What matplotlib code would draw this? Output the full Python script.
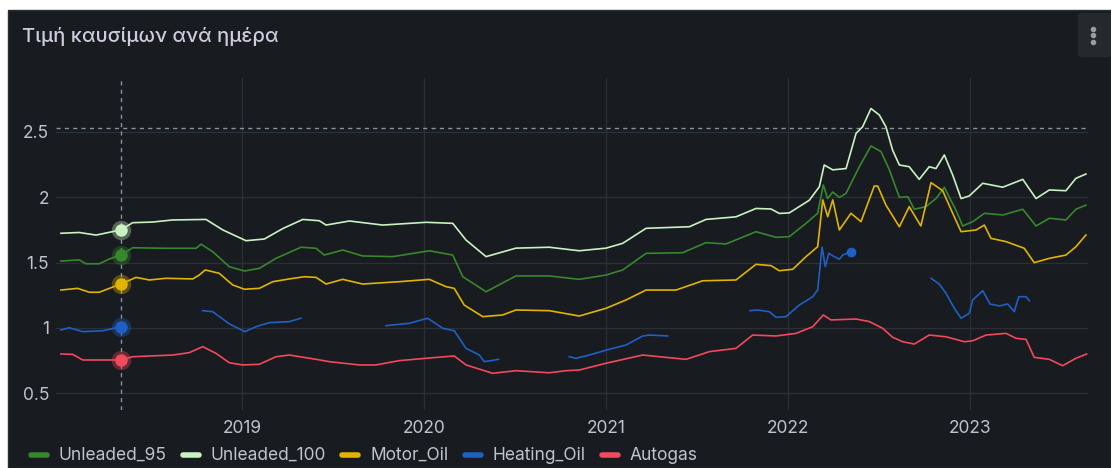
import numpy as np
import pandas as pd
import matplotlib
matplotlib.use("Agg")
import matplotlib.pyplot as plt
from matplotlib.patches import FancyBboxPatch
from matplotlib.lines import Line2D

plt.rcParams['font.family'] = ['Inter', 'DejaVu Sans']

# ---------------- data (decimal years, price in EUR/l) ----------------
u100_years = [2018.005, 2018.106, 2018.198, 2018.335, 2018.399, 2018.509, 2018.619, 2018.802, 2018.894,
              2019.022, 2019.123, 2019.224, 2019.334, 2019.425, 2019.462, 2019.590, 2019.773, 2020.011,
              2020.158, 2020.231, 2020.341, 2020.505, 2020.688, 2020.853, 2021.000, 2021.092, 2021.220,
              2021.458, 2021.549, 2021.714, 2021.824, 2021.907, 2021.952, 2022.007, 2022.117, 2022.172,
              2022.199, 2022.246, 2022.319, 2022.374, 2022.410, 2022.456, 2022.502, 2022.538, 2022.575,
              2022.612, 2022.666, 2022.721, 2022.776, 2022.813, 2022.859, 2022.905, 2022.951, 2022.996,
              2023.070, 2023.180, 2023.290, 2023.363, 2023.436, 2023.527, 2023.582, 2023.637]
u100_vals = [1.724, 1.73, 1.71, 1.75, 1.805, 1.81, 1.826, 1.83, 1.75, 1.667, 1.68, 1.76, 1.83, 1.82,
             1.787, 1.818, 1.787, 1.808, 1.80, 1.672, 1.545, 1.61, 1.617, 1.59, 1.61, 1.647, 1.762,
             1.774, 1.83, 1.85, 1.914, 1.91, 1.876, 1.88, 1.977, 2.08, 2.247, 2.21, 2.22, 2.49, 2.54,
             2.68, 2.63, 2.54, 2.36, 2.247, 2.234, 2.137, 2.234, 2.22, 2.324, 2.17, 1.99, 2.01, 2.107,
             2.077, 2.137, 1.99, 2.056, 2.05, 2.145, 2.178]

u95_years = [2018.005, 2018.106, 2018.143, 2018.216, 2018.271, 2018.335, 2018.399, 2018.582, 2018.747,
             2018.775, 2018.839, 2018.930, 2019.013, 2019.095, 2019.187, 2019.324, 2019.407, 2019.452,
             2019.553, 2019.663, 2019.828, 2020.029, 2020.158, 2020.213, 2020.341, 2020.505, 2020.688,
             2020.853, 2021.000, 2021.092, 2021.220, 2021.421, 2021.549, 2021.659, 2021.824, 2021.934,
             2022.007, 2022.099, 2022.163, 2022.194, 2022.218, 2022.246, 2022.282, 2022.319, 2022.392,
             2022.456, 2022.511, 2022.557, 2022.612, 2022.658, 2022.694, 2022.758, 2022.813, 2022.859,
             2022.923, 2022.960, 2023.015, 2023.079, 2023.180, 2023.290, 2023.363, 2023.436, 2023.527,
             2023.582, 2023.637]
u95_vals = [1.511, 1.52, 1.49, 1.49, 1.527, 1.557, 1.613, 1.609, 1.609, 1.64, 1.583, 1.468, 1.435,
            1.455, 1.532, 1.617, 1.609, 1.557, 1.596, 1.55, 1.545, 1.59, 1.557, 1.391, 1.276, 1.397,
            1.397, 1.371, 1.404, 1.443, 1.57, 1.575, 1.652, 1.642, 1.736, 1.693, 1.698, 1.80, 1.877,
            2.094, 1.99, 2.04, 1.999, 2.03, 2.234, 2.393, 2.35, 2.21, 1.999, 2.004, 1.908, 1.928, 1.99,
            2.076, 1.90, 1.78, 1.813, 1.877, 1.864, 1.908, 1.78, 1.839, 1.826, 1.908, 1.94]

motor_years = [2018.005, 2018.097, 2018.161, 2018.216, 2018.271, 2018.335, 2018.418, 2018.491, 2018.582,
               2018.729, 2018.765, 2018.798, 2018.875, 2018.949, 2019.013, 2019.095, 2019.169, 2019.260,
               2019.342, 2019.407, 2019.462, 2019.553, 2019.663, 2019.864, 2020.029, 2020.121, 2020.166,
               2020.221, 2020.323, 2020.432, 2020.505, 2020.688, 2020.853, 2021.000, 2021.110, 2021.220,
               2021.385, 2021.531, 2021.714, 2021.824, 2021.907, 2021.952, 2022.026, 2022.099, 2022.163,
               2022.191, 2022.218, 2022.246, 2022.282, 2022.346, 2022.401, 2022.474, 2022.493, 2022.538,
               2022.612, 2022.666, 2022.730, 2022.786, 2022.850, 2022.905, 2022.951, 2023.033, 2023.079,
               2023.115, 2023.198, 2023.298, 2023.353, 2023.436, 2023.527, 2023.582, 2023.637]
motor_vals = [1.289, 1.302, 1.272, 1.272, 1.302, 1.335, 1.386, 1.366, 1.379, 1.374, 1.404, 1.443,
              1.417, 1.328, 1.295, 1.302, 1.353, 1.374, 1.391, 1.386, 1.335, 1.371, 1.335, 1.353,
              1.371, 1.315, 1.302, 1.174, 1.085, 1.098, 1.136, 1.131, 1.09, 1.149, 1.213, 1.289,
              1.289, 1.36, 1.366, 1.486, 1.476, 1.437, 1.448, 1.545, 1.621, 1.98, 1.851, 1.98, 1.749,
              1.877, 1.813, 2.086, 2.086, 1.94, 1.774, 1.928, 1.78, 2.112, 2.05, 1.877, 1.736, 1.749,
              1.787, 1.685, 1.66, 1.609, 1.499, 1.532, 1.557, 1.621, 1.711]

heating_years = [
    [2018.005, 2018.051, 2018.125, 2018.235, 2018.335],
    [2018.784, 2018.839, 2018.930, 2019.016, 2019.077, 2019.150, 2019.260, 2019.324],
    [2019.791, 2019.919, 2020.020, 2020.103, 2020.166, 2020.231, 2020.304, 2020.331, 2020.410],
    [2020.798, 2020.835, 2020.908, 2021.018, 2021.110, 2021.202, 2021.238, 2021.339],
    [2021.791, 2021.834, 2021.897, 2021.934, 2021.989, 2022.062, 2022.136, 2022.163, 2022.187,
     2022.205, 2022.224, 2022.254, 2022.282, 2022.301, 2022.346],
    [2022.786, 2022.831, 2022.868, 2022.914, 2022.951, 2022.996, 2023.015, 2023.070, 2023.110,
     2023.161, 2023.207, 2023.243, 2023.268, 2023.308, 2023.326],
]
heating_vals = [
    [0.983, 1.0, 0.97, 0.977, 1.008],
    [1.131, 1.123, 1.03, 0.97, 1.008, 1.039, 1.047, 1.073],
    [1.016, 1.034, 1.073, 0.996, 0.977, 0.842, 0.791, 0.74, 0.758],
    [0.778, 0.766, 0.791, 0.835, 0.868, 0.937, 0.944, 0.937],
    [1.131, 1.136, 1.123, 1.08, 1.085, 1.174, 1.238, 1.289, 1.617, 1.468, 1.57, 1.545, 1.525,
     1.557, 1.583],
    [1.379, 1.335, 1.264, 1.149, 1.073, 1.111, 1.213, 1.284, 1.182, 1.167, 1.182, 1.123, 1.238,
     1.238, 1.207],
]

autogas_years = [2018.005, 2018.070, 2018.125, 2018.335, 2018.399, 2018.619, 2018.710, 2018.784,
                 2018.857, 2018.930, 2019.004, 2019.095, 2019.187, 2019.260, 2019.407, 2019.480,
                 2019.645, 2019.736, 2019.864, 2020.011, 2020.166, 2020.231, 2020.377, 2020.505,
                 2020.688, 2020.780, 2020.853, 2021.000, 2021.202, 2021.330, 2021.440, 2021.568,
                 2021.714, 2021.806, 2021.934, 2022.044, 2022.136, 2022.194, 2022.236, 2022.374,
                 2022.447, 2022.520, 2022.575, 2022.630, 2022.694, 2022.776, 2022.868, 2022.969,
                 2023.015, 2023.088, 2023.198, 2023.253, 2023.308, 2023.353, 2023.436, 2023.509,
                 2023.582, 2023.641]
autogas_vals = [0.799, 0.796, 0.753, 0.753, 0.778, 0.791, 0.809, 0.855, 0.804, 0.732, 0.715, 0.72,
                0.778, 0.791, 0.758, 0.74, 0.715, 0.715, 0.748, 0.766, 0.784, 0.715, 0.651, 0.671,
                0.655, 0.671, 0.676, 0.728, 0.791, 0.773, 0.758, 0.817, 0.842, 0.944, 0.937, 0.957,
                1.008, 1.098, 1.06, 1.067, 1.047, 0.996, 0.927, 0.893, 0.875, 0.944, 0.931, 0.893,
                0.90, 0.944, 0.957, 0.919, 0.911, 0.773, 0.758, 0.709, 0.766, 0.799]

series_names = ['Unleaded_95', 'Unleaded_100', 'Motor_Oil', 'Heating_Oil', 'Autogas']
series_colors = ['#37872d', '#c8f2c2', '#e0b400', '#1f60c4', '#f2495c']

# hover (crosshair) state shown in the screenshot
hover_year = 2018.335
hover_vals = [1.557, 1.75, 1.335, 1.008, 0.753]
cursor_value = 2.53

title_text = 'Τιμή καυσίμων ανά ημέρα'
year_ticks = [2019, 2020, 2021, 2022, 2023]
y_ticks = [0.5, 1, 1.5, 2, 2.5]

BASE = pd.Timestamp('2018-01-01')


def to_dt(years):
    arr = np.asarray(years, dtype=float)
    return BASE + pd.to_timedelta((arr - 2018.0) * 365.25, unit='D')


# ---------------- figure ----------------
W, H = 1111, 468
fig = plt.figure(figsize=(W / 100, H / 100), dpi=100)
fig.patch.set_facecolor('white')

BG = '#181b1f'
TEXT = '#ccccdc'
TICK_TEXT = '#c0c2cc'
GRID = '#2c2f35'
FS = 12.5


def fx(px):
    return px / W


def fy(py):
    return 1 - py / H


panel = FancyBboxPatch((fx(8), 0), fx(1111) - fx(8), fy(10), boxstyle='square,pad=0',
                       transform=fig.transFigure, facecolor=BG, edgecolor='#2a2d33',
                       linewidth=1.0, zorder=-10)
fig.patches.append(panel)

menu = FancyBboxPatch((fx(1078), fy(57)), fx(1111) - fx(1078), fy(13) - fy(57),
                      boxstyle='round,pad=0,rounding_size=0.004', transform=fig.transFigure,
                      facecolor='#25282d', edgecolor='none', zorder=-5)
fig.patches.append(menu)
for py in (28.5, 35, 41.5):
    fig.add_artist(Line2D([fx(1093)], [fy(py)], marker='o', markersize=3, color='#9a9ca3',
                          transform=fig.transFigure, linestyle='none'))

fig.text(fx(22), fy(36), title_text, fontsize=14.5, fontweight='medium', color=TEXT,
         ha='left', va='center')

# axes
ax_left, ax_right, ax_top, ax_bot = 56, 1088, 78, 410
ax = fig.add_axes([fx(ax_left), fy(ax_bot), fx(ax_right) - fx(ax_left), fy(ax_top) - fy(ax_bot)])
ax.set_zorder(5)
ax.set_facecolor('none')
ax.patch.set_alpha(0)
for s in ax.spines.values():
    s.set_visible(False)

px_per_unit = 130.5
ax.set_ylim(0.5 - (ax_bot - 393) / px_per_unit, 2.5 + (132 - ax_top) / px_per_unit)
ax.set_xlim(to_dt([2018 + (ax_left - 60) / 182, 2018 + (ax_right - 60) / 182]))

ax.set_yticks(y_ticks)
ax.set_yticklabels([('%g' % v) for v in y_ticks])
xt = [pd.Timestamp(f'{y}-01-01') for y in year_ticks]
ax.set_xticks(xt)
ax.set_xticklabels([str(y) for y in year_ticks])
ax.tick_params(axis='both', length=0, labelsize=FS, colors=TICK_TEXT)
ax.tick_params(axis='y', pad=5)
ax.tick_params(axis='x', pad=7)
ax.grid(True, color=GRID, linewidth=1.0)
ax.set_axisbelow(True)

lw = 1.2
ax.plot(to_dt(u95_years), u95_vals, color=series_colors[0], lw=lw, zorder=3)
ax.plot(to_dt(u100_years), u100_vals, color=series_colors[1], lw=lw, zorder=3)
ax.plot(to_dt(motor_years), motor_vals, color=series_colors[2], lw=lw, zorder=3)
for yrs, vals in zip(heating_years, heating_vals):
    ax.plot(to_dt(yrs), vals, color=series_colors[3], lw=lw, zorder=3)
# point shown at the end of the 2022 heating-oil segment
ax.plot(to_dt([heating_years[4][-1]]), [heating_vals[4][-1]], marker='o', markersize=6,
        color=series_colors[3], linestyle='none', zorder=4)
ax.plot(to_dt(autogas_years), autogas_vals, color=series_colors[4], lw=lw, zorder=3)

# crosshair
hover_dt = to_dt([hover_year])[0]
ax.axvline(hover_dt, color='#8ea3b8', lw=1.0, linestyle=(0, (3, 3)), alpha=0.9, zorder=2)
ax.axhline(cursor_value, color='#8ea3b8', lw=1.0, linestyle=(0, (3, 3)), alpha=0.9, zorder=2)
for v, c in zip(hover_vals, series_colors):
    ax.plot([hover_dt], [v], marker='o', markersize=14, color=c, alpha=0.35,
            linestyle='none', zorder=5, markeredgewidth=0)
    ax.plot([hover_dt], [v], marker='o', markersize=9, color=c, linestyle='none', zorder=6,
            markeredgewidth=0)

# legend (manual, Grafana style)
fig.canvas.draw()
renderer = fig.canvas.get_renderer()
leg_y = fy(455)
x = 30
for name, col in zip(series_names, series_colors):
    fig.add_artist(Line2D([fx(x + 1), fx(x + 17)], [leg_y, leg_y], color=col, lw=4,
                          solid_capstyle='round', transform=fig.transFigure))
    t = fig.text(fx(x + 29), leg_y, name, fontsize=FS, color=TICK_TEXT, ha='left', va='center')
    bb = t.get_window_extent(renderer=renderer)
    x = x + 29 + bb.width + 15

fig.savefig('out.png', dpi=100, facecolor=fig.get_facecolor())
